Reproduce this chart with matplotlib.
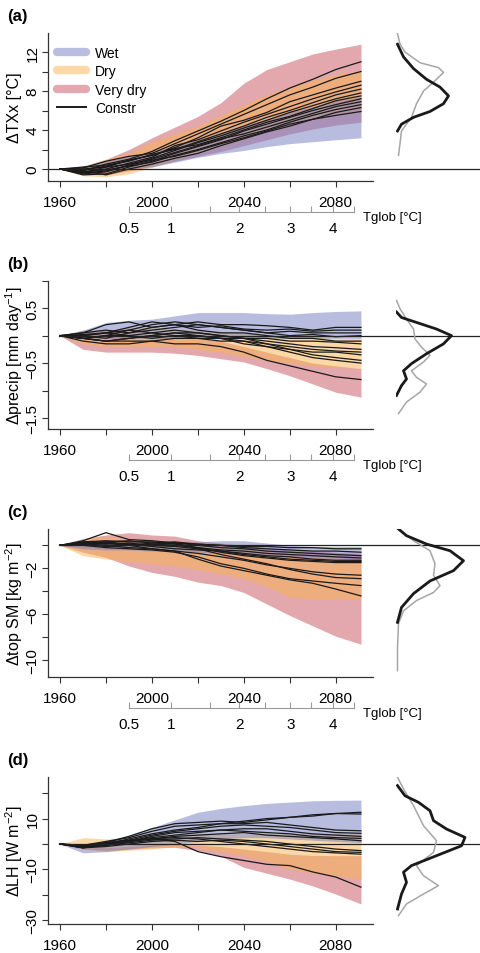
import matplotlib.pyplot as plt
from matplotlib.lines import Line2D
from matplotlib.transforms import blended_transform_factory

plt.rcParams['font.family'] = ['Liberation Sans', 'DejaVu Sans']
plt.rcParams['mathtext.fontset'] = 'custom'
plt.rcParams['mathtext.rm'] = 'Liberation Sans'
plt.rcParams['mathtext.it'] = 'Liberation Sans:italic'
plt.rcParams['mathtext.default'] = 'regular'

# ---------------- data ----------------
years = [1960, 1970, 1980, 1990, 2000, 2010, 2020, 2030, 2040, 2050, 2060, 2070, 2080, 2091]

# Tglob secondary axis: warming level vs. year position
tglob_vals = [0.5, 1, 1.5, 2, 2.5, 3, 3.5, 4, 4.5]
tglob_years = [1990, 2008.2, 2025.2, 2038.1, 2049.2, 2060.2, 2069.4, 2078.9, 2087.9]
tglob_labels = ['0.5', '1', '', '2', '', '3', '', '4', '']

# (a) TXx
a_wet_lo = [0, -0.3, -0.2, 0.0, 0.2, 0.7, 1.2, 1.6, 1.9, 2.3, 2.6, 2.8, 3.0, 3.2]
a_wet_hi = [0, 0.3, 0.8, 1.3, 1.8, 2.4, 3.0, 3.7, 4.4, 5.1, 5.8, 6.4, 7.0, 7.4]
a_dry_lo = [0, -0.7, -0.8, -0.5, 0.2, 0.9, 1.6, 2.3, 3.0, 3.8, 4.5, 5.1, 5.6, 6.0]
a_dry_hi = [0, 0.3, 1.0, 1.6, 2.8, 3.6, 4.4, 5.5, 6.6, 7.6, 8.4, 9.1, 9.7, 10.0]
a_vdry_lo = [0, -0.5, -0.6, -0.2, 0.3, 0.8, 1.3, 1.8, 2.4, 3.0, 3.6, 4.1, 4.5, 4.8]
a_vdry_hi = [0, 0.3, 1.0, 2.0, 3.2, 4.3, 5.4, 6.8, 8.8, 10.2, 11.0, 11.8, 12.3, 12.8]
a_constr = [
    [0, -0.2, 0.5, 1.0, 1.8, 2.9, 3.9, 4.9, 6.0, 7.2, 8.3, 9.2, 10.2, 11.0],
    [0, 0.1, 0.8, 1.3, 1.6, 2.6, 3.6, 4.6, 5.6, 6.6, 7.6, 8.4, 9.3, 10.0],
    [0, -0.4, 0.2, 0.9, 1.4, 2.2, 3.2, 4.4, 5.0, 5.8, 6.9, 7.6, 8.3, 9.0],
    [0, -0.3, 0.0, 0.6, 1.2, 2.4, 3.0, 3.9, 4.8, 5.6, 6.4, 7.2, 7.9, 8.6],
    [0, 0.2, 0.4, 0.8, 1.5, 2.0, 2.8, 3.6, 4.4, 5.3, 6.0, 6.8, 7.6, 8.2],
    [0, -0.5, -0.3, 0.4, 1.1, 1.9, 2.7, 3.4, 4.2, 5.0, 5.8, 6.5, 7.2, 7.8],
    [0, -0.1, 0.3, 0.9, 1.4, 2.1, 2.5, 3.2, 4.0, 4.8, 5.4, 6.2, 7.0, 7.5],
    [0, -0.6, -0.5, 0.2, 0.8, 1.6, 2.3, 3.0, 3.9, 4.6, 5.3, 6.0, 6.6, 7.2],
    [0, 0.0, 0.2, 0.5, 1.0, 1.7, 2.4, 3.1, 3.6, 4.3, 5.0, 5.7, 6.4, 6.9],
    [0, -0.3, -0.1, 0.3, 0.7, 1.4, 2.0, 2.7, 3.4, 4.0, 4.8, 5.5, 6.1, 6.6],
    [0, -0.2, -0.6, 0.0, 0.5, 1.1, 1.6, 2.4, 3.1, 3.8, 4.4, 5.1, 5.8, 6.3],
    [0, -0.4, -0.2, 0.4, 0.9, 1.3, 1.9, 2.6, 3.2, 3.9, 4.6, 5.1, 5.5, 5.9],
]
a_black_y = [12.8, 11.5, 10.3, 9.2, 8.4, 7.5, 6.7, 5.9, 5.3, 4.6, 3.9]
a_black_d = [0.03, 0.15, 0.35, 0.61, 0.88, 1.05, 0.95, 0.68, 0.35, 0.11, 0.03]
a_gray_y = [13.9, 12.8, 12.0, 10.9, 10.4, 9.9, 8.9, 8.0, 6.7, 5.3, 3.9, 2.6, 1.4]
a_gray_d = [0.03, 0.08, 0.18, 0.48, 0.85, 0.95, 0.75, 0.55, 0.41, 0.31, 0.11, 0.08, 0.05]

# (b) precipitation
b_wet_lo = [0, -0.05, -0.05, -0.05, -0.05, -0.05, -0.05, -0.05, -0.05, -0.05, -0.05, -0.05, -0.05, -0.05]
b_wet_hi = [0, 0.1, 0.24, 0.28, 0.3, 0.36, 0.42, 0.42, 0.42, 0.4, 0.39, 0.42, 0.44, 0.45]
b_dry_lo = [0, -0.15, -0.2, -0.2, -0.2, -0.2, -0.25, -0.3, -0.38, -0.45, -0.5, -0.55, -0.58, -0.6]
b_dry_hi = [0, 0.05, 0.1, 0.15, 0.15, 0.12, 0.1, 0.08, 0.05, 0.02, 0.0, -0.02, -0.05, -0.05]
b_vdry_lo = [0, -0.25, -0.3, -0.3, -0.3, -0.32, -0.36, -0.42, -0.48, -0.6, -0.73, -0.88, -1.03, -1.12]
b_vdry_hi = [0, 0.1, 0.1, 0.05, 0.0, -0.02, -0.05, -0.1, -0.2, -0.3, -0.4, -0.5, -0.55, -0.6]
b_constr = [
    [0, 0.05, 0.2, 0.25, 0.15, 0.2, 0.25, 0.2, 0.2, 0.18, 0.15, 0.1, 0.15, 0.15],
    [0, 0.0, 0.05, 0.15, 0.25, 0.2, 0.15, 0.18, 0.12, 0.1, 0.12, 0.08, 0.1, 0.1],
    [0, -0.05, 0.0, 0.1, 0.2, 0.25, 0.2, 0.15, 0.1, 0.05, 0.08, 0.05, 0.05, 0.05],
    [0, 0.05, 0.1, 0.05, 0.1, 0.15, 0.2, 0.15, 0.1, 0.05, 0.0, 0.02, -0.02, 0.0],
    [0, 0.0, -0.05, 0.05, 0.15, 0.2, 0.1, 0.05, 0.05, 0.0, -0.05, -0.05, -0.1, -0.1],
    [0, -0.05, 0.0, 0.0, 0.05, 0.1, 0.05, 0.0, -0.05, -0.05, -0.1, -0.1, -0.12, -0.15],
    [0, 0.02, 0.05, 0.1, 0.05, 0.0, 0.0, -0.05, -0.05, -0.1, -0.15, -0.2, -0.22, -0.25],
    [0, -0.05, -0.1, -0.05, 0.0, 0.05, 0.05, 0.0, -0.05, -0.15, -0.2, -0.25, -0.28, -0.3],
    [0, 0.0, 0.05, 0.0, -0.05, 0.0, -0.05, -0.1, -0.1, -0.2, -0.25, -0.3, -0.3, -0.35],
    [0, -0.1, -0.15, -0.15, -0.1, -0.05, -0.05, -0.05, -0.1, -0.15, -0.25, -0.35, -0.4, -0.45],
    [0, -0.05, -0.1, -0.05, 0.0, 0.05, 0.0, -0.05, -0.15, -0.2, -0.3, -0.4, -0.45, -0.5],
    [0, -0.05, -0.1, -0.1, -0.1, -0.15, -0.15, -0.2, -0.3, -0.45, -0.55, -0.65, -0.75, -0.8],
]
b_black_y = [0.43, 0.33, 0.24, 0.12, 0.0, -0.15, -0.33, -0.51, -0.64, -0.79, -0.91, -1.09]
b_black_d = [0.01, 0.11, 0.41, 0.81, 1.11, 0.95, 0.61, 0.31, 0.15, 0.21, 0.11, 0.01]
b_gray_y = [0.64, 0.49, 0.30, 0.12, -0.06, -0.21, -0.36, -0.48, -0.64, -0.76, -0.88, -1.03, -1.21, -1.42]
b_gray_d = [0.01, 0.08, 0.21, 0.35, 0.38, 0.51, 0.68, 0.55, 0.31, 0.41, 0.61, 0.48, 0.21, 0.05]

# (c) top soil moisture
c_wet_lo = [0, -0.3, -0.4, -0.4, -0.5, -0.5, -0.6, -0.7, -0.8, -0.9, -1.0, -1.1, -1.2, -1.3]
c_wet_hi = [0, 0.3, 0.3, 0.3, 0.3, 0.3, 0.3, 0.4, 0.4, 0.2, 0.0, -0.1, -0.1, -0.1]
c_dry_lo = [0, -0.9, -1.2, -1.4, -1.6, -1.8, -2.1, -2.5, -2.9, -3.6, -4.5, -4.7, -4.7, -4.7]
c_dry_hi = [0, 0.5, 0.8, 0.5, 0.4, 0.3, 0.2, 0.0, -0.2, -0.5, -0.8, -1.0, -1.1, -1.2]
c_vdry_lo = [0, -0.6, -1.05, -1.8, -2.35, -2.7, -3.2, -3.5, -4.1, -5.1, -6.1, -7.0, -7.9, -8.6]
c_vdry_hi = [0, 0.6, 0.9, 1.1, 0.9, 0.8, 0.4, 0.2, 0.0, -0.2, -0.4, -0.5, -0.6, -0.7]
c_constr = [
    [0, 0.3, 0.4, 0.3, 0.3, 0.2, 0.1, 0.0, -0.1, -0.1, -0.2, -0.2, -0.3, -0.3],
    [0, 0.2, 0.3, 0.4, 0.2, 0.3, 0.1, 0.0, -0.2, -0.3, -0.4, -0.5, -0.5, -0.6],
    [0, 0.4, 1.1, 0.5, 0.4, 0.2, 0.0, -0.2, -0.3, -0.5, -0.6, -0.7, -0.8, -0.9],
    [0, 0.1, 0.2, 0.0, 0.1, 0.0, -0.2, -0.4, -0.5, -0.7, -0.8, -0.9, -1.0, -1.1],
    [0, 0.2, 0.1, 0.2, 0.0, -0.1, -0.3, -0.5, -0.7, -0.9, -1.0, -1.2, -1.3, -1.3],
    [0, 0.0, 0.2, 0.1, -0.1, -0.3, -0.4, -0.5, -0.8, -1.0, -1.2, -1.3, -1.4, -1.4],
    [0, 0.3, 0.2, 0.0, 0.2, 0.1, -0.2, -0.6, -0.9, -1.1, -1.3, -1.4, -1.5, -1.5],
    [0, 0.1, 0.0, -0.2, -0.3, -0.5, -0.7, -1.0, -1.3, -1.7, -2.0, -2.3, -2.5, -2.6],
    [0, 0.2, 0.3, 0.1, 0.0, 0.2, -0.3, -0.8, -1.2, -1.6, -2.1, -2.5, -2.8, -2.9],
    [0, 0.0, -0.2, -0.3, -0.4, -0.6, -1.0, -1.6, -2.0, -2.5, -2.9, -3.1, -3.3, -3.5],
    [0, 0.1, -0.1, 0.0, -0.3, -0.5, -1.2, -1.8, -2.2, -2.6, -3.0, -3.3, -3.8, -4.4],
]
c_black_y = [1.42, 0.84, 0.11, -0.47, -1.34, -2.2, -3.1, -4.2, -5.4, -6.7]
c_black_d = [0.05, 0.21, 0.61, 1.08, 1.35, 1.15, 0.68, 0.35, 0.11, 0.03]
c_gray_y = [1.42, 0.4, -0.47, -1.6, -2.6, -3.5, -4.1, -4.8, -5.7, -6.8, -8.9, -10.9]
c_gray_d = [0.05, 0.35, 0.68, 0.78, 0.75, 0.88, 0.75, 0.41, 0.15, 0.05, 0.03, 0.03]

# (d) latent heat
d_wet_lo = [0, -3.5, -3.0, -2.0, -1.0, 0.0, 1.0, 2.0, 2.5, 2.5, 2.0, 1.5, 1.0, 0.5]
d_wet_hi = [0, -0.5, 1.5, 3.5, 6.5, 9.5, 12.5, 14.0, 15.1, 16.0, 16.5, 17.0, 17.2, 17.3]
d_dry_lo = [0, -2.0, -3.0, -2.5, -2.0, -1.0, -1.5, -3.0, -4.6, -7.0, -9.8, -11.5, -12.5, -13.8]
d_dry_hi = [0, 2.5, 2.0, 2.0, 3.0, 3.5, 4.0, 4.0, 4.0, 4.0, 4.0, 4.0, 4.0, 4.0]
d_vdry_lo = [0, -2.0, -2.5, -2.0, -1.5, -1.3, -2.6, -4.8, -9.2, -11.5, -13.8, -16.5, -19.7, -23.6]
d_vdry_hi = [0, -1.0, -1.5, -1.0, -0.5, 0.0, -0.5, -1.0, -2.0, -3.0, -4.0, -4.5, -4.6, -4.6]
d_constr = [
    [0, -1.0, 0.5, 3.0, 6.0, 8.0, 8.5, 9.0, 8.5, 9.5, 10.5, 11.5, 12.0, 12.5],
    [0, -0.5, 1.0, 2.5, 5.0, 7.0, 7.5, 8.0, 9.0, 10.0, 10.5, 11.0, 12.0, 11.8],
    [0, -1.5, 0.0, 2.0, 4.0, 5.5, 6.5, 8.0, 8.0, 8.5, 7.5, 6.5, 5.5, 5.2],
    [0, -1.0, 0.5, 1.5, 3.5, 5.0, 6.0, 7.0, 7.5, 7.0, 6.5, 5.5, 4.5, 4.2],
    [0, -1.0, 0.0, 1.0, 3.0, 4.5, 5.0, 5.5, 6.0, 6.0, 5.0, 4.0, 3.5, 3.0],
    [0, -1.5, -0.5, 1.0, 2.5, 3.5, 4.5, 5.5, 5.0, 4.5, 4.0, 3.0, 2.5, 2.2],
    [0, -0.5, 0.5, 1.5, 2.0, 3.0, 3.5, 4.0, 4.5, 3.5, 3.0, 2.5, 2.0, 1.3],
    [0, -1.0, -0.5, 0.5, 1.5, 2.0, 2.5, 2.0, 1.5, 1.0, 0.0, -1.0, -2.0, -2.6],
    [0, -1.5, -1.0, 0.0, 1.0, 1.5, 1.0, 1.5, 1.0, 0.0, -1.0, -2.0, -3.0, -3.3],
    [0, -1.0, 0.0, 1.0, 2.0, 2.5, 2.0, 1.0, 0.0, -1.0, -2.0, -3.0, -3.5, -4.0],
    [0, -1.0, -0.5, 1.0, 2.0, 1.0, -3.0, -5.0, -6.5, -8.0, -8.5, -11.0, -13.0, -17.0],
]
d_black_y = [23.0, 19.0, 16.4, 13.1, 9.2, 5.9, 2.6, -0.7, -4.6, -8.5, -11.1, -15.1, -19.7, -25.6]
d_black_d = [0.03, 0.18, 0.45, 0.68, 0.75, 1.01, 1.38, 1.31, 0.81, 0.31, 0.15, 0.21, 0.11, 0.03]
d_gray_y = [26.3, 21.7, 15.1, 7.2, 1.3, -3.3, -8.5, -12.5, -16.4, -19.7, -23.6, -28.2]
d_gray_d = [0.03, 0.15, 0.35, 0.55, 0.81, 0.75, 0.41, 0.55, 0.85, 0.55, 0.21, 0.05]

# ---------------- figure ----------------
W, H = 480, 954
fig = plt.figure(figsize=(W / 100, H / 100), dpi=100)

wet_col, dry_col, vdry_col = '#737dc1', '#f9b34d', '#c8505f'
band_alpha = 0.5

panels = [
    dict(tag='(a)', top=34, bot=182, ylim=(-1.23, 13.95),
         yticks=[0, 2, 4, 6, 8, 10, 12], ylabs=['0', '', '4', '', '8', '', '12'],
         ylabel='ΔTXx [°C]',
         bands=[(a_vdry_lo, a_vdry_hi, vdry_col), (a_dry_lo, a_dry_hi, dry_col), (a_wet_lo, a_wet_hi, wet_col)],
         constr=a_constr, dens=(a_black_y, a_black_d, a_gray_y, a_gray_d), tglob=True, zstart=48),
    dict(tag='(b)', top=281.7, bot=430, ylim=(-1.70, 1.0),
         yticks=[-1.5, -1, -0.5, 0, 0.5, 1.0], ylabs=['−1.5', '', '−0.5', '', '0.5', ''],
         ylabel='Δprecip [mm day$^{-1}$]',
         bands=[(b_vdry_lo, b_vdry_hi, vdry_col), (b_dry_lo, b_dry_hi, dry_col), (b_wet_lo, b_wet_hi, wet_col)],
         constr=b_constr, dens=(b_black_y, b_black_d, b_gray_y, b_gray_d), tglob=True, zstart=59),
    dict(tag='(c)', top=530, bot=678, ylim=(-11.45, 1.42),
         yticks=[-10, -8, -6, -4, -2, 0], ylabs=['−10', '', '−6', '', '−2', ''],
         ylabel='Δtop SM [kg m$^{-2}$]',
         bands=[(c_vdry_lo, c_vdry_hi, vdry_col), (c_dry_lo, c_dry_hi, dry_col), (c_wet_lo, c_wet_hi, wet_col)],
         constr=c_constr, dens=(c_black_y, c_black_d, c_gray_y, c_gray_d), tglob=True, zstart=59),
    dict(tag='(d)', top=777.7, bot=925, ylim=(-31.5, 26.5),
         yticks=[-30, -20, -10, 0, 10, 20], ylabs=['−30', '', '−10', '', '10', ''],
         ylabel='ΔLH [W m$^{-2}$]',
         bands=[(d_vdry_lo, d_vdry_hi, vdry_col), (d_dry_lo, d_dry_hi, dry_col), (d_wet_lo, d_wet_hi, wet_col)],
         constr=d_constr, dens=(d_black_y, d_black_d, d_gray_y, d_gray_d), tglob=False, zstart=59),
]

xlim = (1954.76, 2096.24)
ax_left, ax_right = 48, 373
tick_fs = 11

for p in panels:
    rect = [ax_left / W, 1 - p['bot'] / H, (ax_right - ax_left) / W, (p['bot'] - p['top']) / H]
    ax = fig.add_axes(rect)
    for lo, hi, col in p['bands']:
        ax.fill_between(years, lo, hi, color=col, alpha=band_alpha, lw=0)
    for ln in p['constr']:
        ax.plot(years, ln, color='#1a1a1a', lw=0.9)
    ax.set_xlim(*xlim)
    ax.set_ylim(*p['ylim'])
    ax.spines[['top', 'right']].set_visible(False)
    for s in ('left', 'bottom'):
        ax.spines[s].set_color('#333333')
        ax.spines[s].set_linewidth(0.9)
    ax.set_xticks(range(1960, 2081, 20))
    ax.set_xticklabels(['1960', '', '2000', '', '2040', '', '2080'])
    ax.set_yticks(p['yticks'])
    ax.set_yticklabels(p['ylabs'])
    ax.tick_params(labelsize=tick_fs, length=4, width=0.8, color='#333333')
    ax.tick_params(axis='x', pad=6)
    ax.tick_params(axis='y', pad=2)
    for t in ax.get_yticklabels():
        t.set_rotation(90)
        t.set_va('center')

    # zero line running across into the density strip
    tr = blended_transform_factory(fig.transFigure, ax.transData)
    ax.plot([p['zstart'] / W, 1.0], [0, 0], color='#222222', lw=0.9, transform=tr, clip_on=False)

    # y label and panel tag
    fig.text(14 / W, 1 - (p['top'] + p['bot']) / 2 / H, p['ylabel'], rotation=90,
             ha='center', va='center', fontsize=11.5)
    fig.text(7 / W, 1 - (p['top'] - 17) / H, p['tag'], fontsize=12, fontweight='bold', va='center')

    # density strip
    dax = fig.add_axes([396 / W, rect[1], 84 / W, rect[3]])
    by, bd, gy, gd = p['dens']
    dax.plot(gd, gy, color='#a6a6a6', lw=1.1, solid_joinstyle='round')
    dax.plot(bd, by, color='#1a1a1a', lw=2.0, solid_joinstyle='round')
    dax.set_xlim(0, 1.68)
    dax.set_ylim(*p['ylim'])
    dax.axis('off')

    # Tglob axis
    if p['tglob']:
        tg_y = p['bot'] + 30.5
        tg = fig.add_axes([rect[0], 1 - tg_y / H, rect[2], 0.0001])
        tg.set_xlim(*xlim)
        tg.patch.set_visible(False)
        for s in ('top', 'left', 'right'):
            tg.spines[s].set_visible(False)
        tg.spines['bottom'].set_color('#9a9a9a')
        tg.spines['bottom'].set_linewidth(0.8)
        tg.spines['bottom'].set_bounds(tglob_years[0], tglob_years[-1])
        tg.set_yticks([])
        tg.set_xticks(tglob_years)
        tg.set_xticklabels(tglob_labels)
        tg.tick_params(axis='x', direction='in', length=4, width=0.8, color='#9a9a9a',
                       labelsize=tick_fs, pad=7)
        fig.text(363 / W, 1 - (tg_y + 5.5) / H, 'Tglob [°C]', fontsize=9.5, va='center')

    if p['tag'] == '(a)':
        handles = [
            Line2D([], [], color='#b9bde0', lw=6, solid_capstyle='round'),
            Line2D([], [], color='#fcd9a6', lw=6, solid_capstyle='round'),
            Line2D([], [], color='#e3a7af', lw=6, solid_capstyle='round'),
            Line2D([], [], color='#1a1a1a', lw=1.4),
        ]
        ax.legend(handles, ['Wet', 'Dry', 'Very dry', 'Constr'], loc='upper left',
                  bbox_to_anchor=(0.028, 0.915), frameon=False, fontsize=10,
                  handlelength=2.1, handletextpad=0.65, labelspacing=0.33, borderpad=0,
                  borderaxespad=0)

fig.savefig('out.png', dpi=100)
